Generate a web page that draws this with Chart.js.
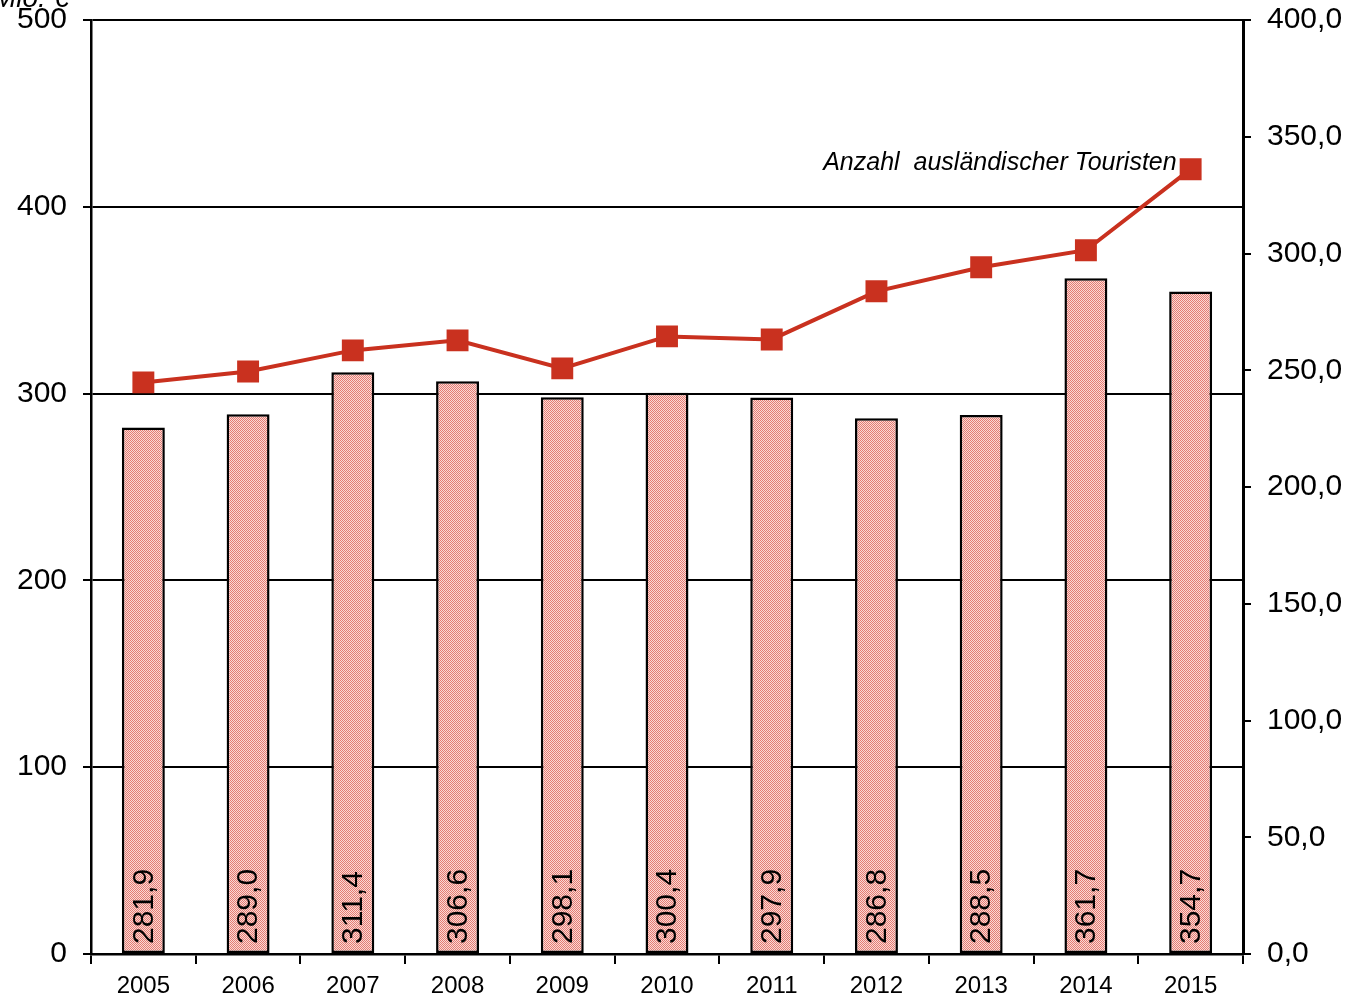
<!DOCTYPE html>
<html>
<head>
<meta charset="utf-8">
<script src="https://cdn.jsdelivr.net/npm/chart.js@4.4.1/dist/chart.umd.min.js"></script>
<style>
  html, body { margin: 0; padding: 0; background: #fff; }
  #wrap { width: 1354px; height: 997px; position: relative; }
</style>
</head>
<body>
<div id="wrap"><canvas id="chart" width="1354" height="997"></canvas></div>
<script>
// Jahre, Ausgaben (Mio. €) und Zahl ausländischer Touristen
const years = ['2005', '2006', '2007', '2008', '2009', '2010', '2011', '2012', '2013', '2014', '2015'];
const spending = [281.9, 289.0, 311.4, 306.6, 298.1, 300.4, 297.9, 286.8, 288.5, 361.7, 354.7];
const tourists = [244.8, 249.5, 258.5, 262.8, 250.8, 264.5, 263.2, 283.8, 294.1, 301.4, 336.1];
const lineLabel = 'Anzahl  ausländischer Touristen';
const unitLabel = 'Mio. €';

const FONT = '"Liberation Sans", Arial, sans-serif';
const RED = '#c9311f';

// Karomuster für die Balken
function checkerPattern() {
    const c = document.createElement('canvas');
    c.width = 2; c.height = 2;
    const g = c.getContext('2d');
    g.fillStyle = '#fad9d5';
    g.fillRect(0, 0, 2, 2);
    g.fillStyle = '#e47c73';
    g.fillRect(0, 0, 1, 1);
    g.fillRect(1, 1, 1, 1);
    return g.createPattern(c, 'repeat');
}

const fmt = v => v.toFixed(1).replace('.', ',');

// feste Achsbreiten, Beschriftungen dürfen über den Rand ragen
const fixWidth = w => s => { s.width = w; s.paddingTop = 0; s.paddingBottom = 0; };

// Werte senkrecht unten in die Balken schreiben, Beschriftungen dazu
const labelsPlugin = {
    id: 'labels',
    afterDatasetsDraw(chart) {
        const ctx = chart.ctx;
        const meta = chart.getDatasetMeta(0);
        ctx.save();
        ctx.font = '30px ' + FONT;
        ctx.fillStyle = '#000';
        ctx.textBaseline = 'middle';
        ctx.textAlign = 'left';
        meta.data.forEach((bar, i) => {
            ctx.save();
            ctx.translate(bar.x, chart.chartArea.bottom - 10);
            ctx.rotate(-Math.PI / 2);
            ctx.fillText(fmt(spending[i]), 0, 1);
            ctx.restore();
        });

        // Beschriftung der Linie
        const line = chart.getDatasetMeta(1).data;
        const last = line[line.length - 1];
        ctx.font = 'italic 25px ' + FONT;
        ctx.textAlign = 'right';
        ctx.textBaseline = 'alphabetic';
        ctx.fillText(lineLabel, last.x - 14, last.y + 1);

        // Einheit links oben
        ctx.font = 'italic 28px ' + FONT;
        ctx.textAlign = 'left';
        ctx.fillText(unitLabel, -7, 7);
        ctx.restore();
    }
};

new Chart(document.getElementById('chart'), {
    data: {
        labels: years,
        datasets: [{
            type: 'bar',
            data: spending,
            yAxisID: 'y',
            backgroundColor: checkerPattern(),
            borderColor: '#000',
            borderWidth: 2.5,
            borderSkipped: false,
            barPercentage: 0.41,
            categoryPercentage: 1,
            order: 2
        }, {
            type: 'line',
            data: tourists,
            yAxisID: 'y1',
            borderColor: RED,
            borderWidth: 4,
            pointStyle: 'rect',
            pointRadius: 15.5,
            pointBackgroundColor: RED,
            pointBorderWidth: 0,
            tension: 0,
            order: 1
        }]
    },
    options: {
        responsive: false,
        animation: false,
        layout: { padding: { top: 20, left: 0, right: 0, bottom: 0 } },
        plugins: {
            legend: { display: false },
            tooltip: { enabled: false }
        },
        scales: {
            x: {
                offset: true,
                afterFit: s => { s.height = 43; s.paddingLeft = 0; s.paddingRight = 0; },
                grid: { offset: true, drawOnChartArea: false, drawTicks: true, tickLength: 10, color: '#000', lineWidth: 2 },
                border: { color: '#000', width: 2.5 },
                ticks: { color: '#000', font: { family: FONT, size: 24 }, padding: 8 }
            },
            y: {
                position: 'left',
                min: 0, max: 500,
                afterFit: fixWidth(91),
                ticks: { stepSize: 100, color: '#000', font: { family: FONT, size: 30 }, padding: 16 },
                grid: { color: '#000', lineWidth: 2, tickLength: 8 },
                border: { color: '#000', width: 2.5 }
            },
            y1: {
                position: 'right',
                min: 0, max: 400,
                afterFit: fixWidth(111),
                ticks: { stepSize: 50, color: '#000', font: { family: FONT, size: 30 }, padding: 16, callback: v => fmt(v) },
                grid: { drawOnChartArea: false, color: '#000', lineWidth: 2, tickLength: 8 },
                border: { color: '#000', width: 3 }
            }
        }
    },
    plugins: [labelsPlugin]
});
</script>
</body>
</html>
